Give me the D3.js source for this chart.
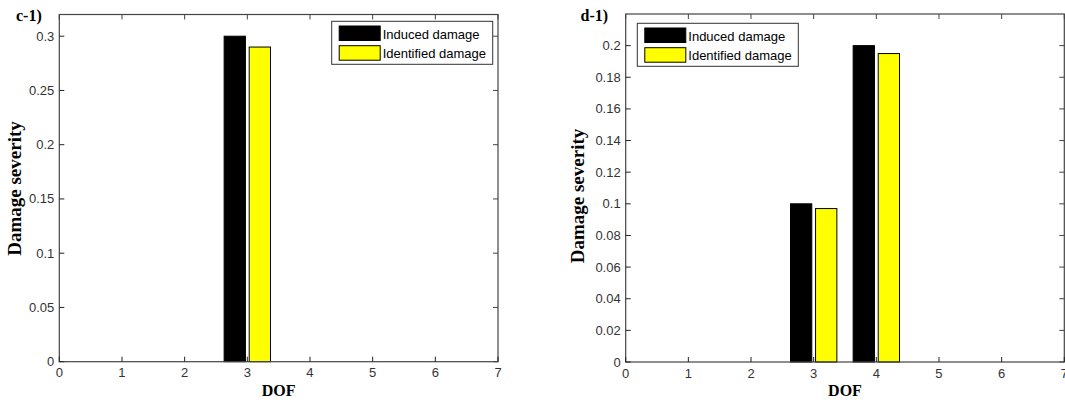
<!DOCTYPE html>
<html>
<head>
<meta charset="utf-8">
<script src="https://cdn.jsdelivr.net/npm/d3@7"></script>
<style>
  body { margin: 0; background: #fff; }
  svg { display: block; }
  .tick-label { font-family: Arial, "Liberation Sans", sans-serif; font-size: 13px; fill: #333; }
  .legend-text { font-family: Arial, "Liberation Sans", sans-serif; font-size: 13px; fill: #000; }
  .serif { font-family: "Times New Roman", "Liberation Serif", serif; font-weight: bold; fill: #000; }
</style>
</head>
<body>
<div id="chart"></div>
<script>

// data
var dofTicks = [0, 1, 2, 3, 4, 5, 6, 7];
var seriesNames = ["Induced damage", "Identified damage"];

var cDof = [3];
var cInduced = [0.30];
var cIdentified = [0.29];
var cYTicks = [0, 0.05, 0.1, 0.15, 0.2, 0.25, 0.3];

var dDof = [3, 4];
var dInduced = [0.10, 0.20];
var dIdentified = [0.097, 0.195];
var dYTicks = [0, 0.02, 0.04, 0.06, 0.08, 0.1, 0.12, 0.14, 0.16, 0.18, 0.2];

var colors = ["#000000", "#ffff00"];

var svg = d3.select("#chart")
  .append("svg")
  .attr("width", 1065)
  .attr("height", 406);

function drawPanel(p) {
  var x = d3.scaleLinear().domain([0, 7]).range([p.left, p.right]);
  var y = d3.scaleLinear().domain([0, p.ymax]).range([p.bottom, p.top]);
  var g = svg.append("g");

  // bars, black then yellow, offset around each dof
  var rows = p.dof.map(function (d, i) { return { dof: d, vals: [p.induced[i], p.identified[i]] }; });
  var barW = 0.34, offs = [-0.2, 0.2];
  rows.forEach(function (r) {
    r.vals.forEach(function (v, k) {
      var xc = r.dof + offs[k];
      g.append("rect")
        .attr("x", x(xc - barW / 2))
        .attr("y", y(v))
        .attr("width", x(xc + barW / 2) - x(xc - barW / 2))
        .attr("height", y(0) - y(v))
        .attr("fill", colors[k])
        .attr("stroke", "#000")
        .attr("stroke-width", 1);
    });
  });

  // box
  g.append("rect")
    .attr("x", p.left).attr("y", p.top)
    .attr("width", p.right - p.left).attr("height", p.bottom - p.top)
    .attr("fill", "none").attr("stroke", "#444").attr("stroke-width", 1.2);

  // inward ticks on all sides
  var tl = 5;
  dofTicks.forEach(function (t) {
    g.append("line").attr("x1", x(t)).attr("x2", x(t)).attr("y1", p.bottom).attr("y2", p.bottom - tl).attr("stroke", "#222");
    g.append("line").attr("x1", x(t)).attr("x2", x(t)).attr("y1", p.top).attr("y2", p.top + tl).attr("stroke", "#444");
    g.append("text").attr("class", "tick-label")
      .attr("x", x(t)).attr("y", p.bottom + 15.5)
      .attr("text-anchor", "middle").text(t);
  });
  p.yTicks.forEach(function (t) {
    g.append("line").attr("x1", p.left).attr("x2", p.left + tl).attr("y1", y(t)).attr("y2", y(t)).attr("stroke", "#222");
    g.append("line").attr("x1", p.right).attr("x2", p.right - tl).attr("y1", y(t)).attr("y2", y(t)).attr("stroke", "#444");
    g.append("text").attr("class", "tick-label")
      .attr("x", p.left - 5).attr("y", y(t) + 4.5)
      .attr("text-anchor", "end").text(String(+t.toFixed(2)));
  });

  // axis labels
  g.append("text").attr("class", "serif")
    .attr("x", (p.left + p.right) / 2).attr("y", p.bottom + 34)
    .attr("text-anchor", "middle").style("font-size", "16px").text("DOF");

  g.append("text").attr("class", "serif")
    .attr("transform", "translate(" + p.ylabX + "," + p.ylabY + ") rotate(-90)")
    .attr("text-anchor", "middle").style("font-size", "19px").text("Damage severity");

  g.append("text").attr("class", "serif")
    .attr("x", p.tagX).attr("y", 20.5)
    .style("font-size", "16px").text(p.tag);

  // legend
  var lg = g.append("g").attr("transform", "translate(" + p.legX + "," + p.legY + ")");
  lg.append("rect").attr("width", 161).attr("height", 43)
    .attr("fill", "#fff").attr("stroke", "#333").attr("stroke-width", 1);
  seriesNames.forEach(function (name, k) {
    lg.append("rect")
      .attr("x", 7.5).attr("y", 4.7 + k * 19.7)
      .attr("width", 41).attr("height", 14.5)
      .attr("fill", colors[k]).attr("stroke", "#000");
    lg.append("text").attr("class", "legend-text")
      .attr("x", 51).attr("y", 17.5 + k * 19.7)
      .text(name);
  });
}

drawPanel({
  left: 59.3, right: 498, top: 14.5, bottom: 361.7, ymax: 0.32,
  dof: cDof, induced: cInduced, identified: cIdentified, yTicks: cYTicks,
  tag: "c-1)", tagX: 16, ylabX: 21, ylabY: 188.5,
  legX: 331.7, legY: 21.3
});

drawPanel({
  left: 625.7, right: 1064.3, top: 14, bottom: 362, ymax: 0.22,
  dof: dDof, induced: dInduced, identified: dIdentified, yTicks: dYTicks,
  tag: "d-1)", tagX: 580.5, ylabX: 584, ylabY: 196,
  legX: 637.3, legY: 23.3
});

</script>
</body>
</html>
